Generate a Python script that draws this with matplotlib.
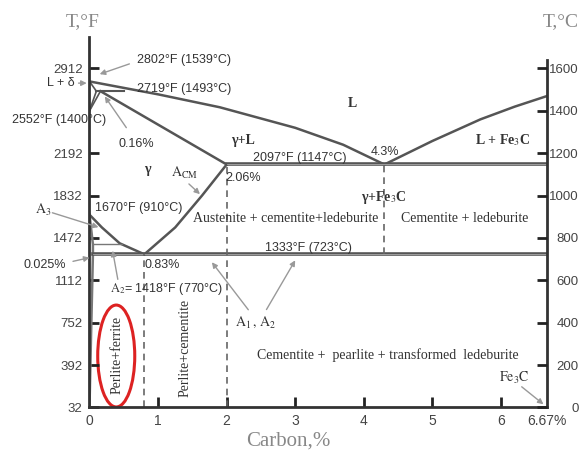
import numpy as np
import matplotlib
matplotlib.use("Agg")
import matplotlib.pyplot as plt
from matplotlib.patches import Ellipse

plt.rcParams['font.family'] = ['Liberation Sans', 'DejaVu Sans']
plt.rcParams['mathtext.fontset'] = 'stix'

# phase boundaries, carbon % vs temperature in deg C
liquidus_x = [0, 1.0, 1.9, 3.0, 3.7, 4.3, 5.0, 5.7, 6.2, 6.67]
liquidus_t = [1539, 1478, 1417, 1320, 1240, 1147, 1258, 1360, 1420, 1470]
solidus_x = [0.16, 2.0]
solidus_t = [1493, 1147]
peritectic_x = [0.1, 0.5]
peritectic_t = [1493, 1493]
delta_x = [[0, 0.1], [0, 0.1], [0, 0.16]]
delta_t = [[1539, 1493], [1400, 1493], [1400, 1493]]
acm_x = [0.8, 1.25, 1.64, 2.0]
acm_t = [723, 850, 1000, 1147]
a3_x = [0, 0.18, 0.44, 0.8]
a3_t = [910, 850, 775, 723]
ferrite_x = [0, 0.05, 0.05, 0.02, 0]
ferrite_t = [910, 770, 723, 300, 0]
a2_x = [0.05, 0.47]
a2_t = [770, 770]
eutectic_x = [2.0, 6.67]
eutectic_t = [1147, 1147]
eutectoid_x = [0.05, 6.67]
eutectoid_t = [723, 723]
dashed_x = [0.8, 2.0, 4.3]
dashed_lo = [0, 0, 723]
dashed_hi = [723, 1147, 1147]

# axis ticks
x_ticks = [0, 1, 2, 3, 4, 5, 6, 6.67]
x_labels = ['0', '1', '2', '3', '4', '5', '6', '6.67%']
c_ticks = [0, 200, 400, 600, 800, 1000, 1200, 1400, 1600]
f_ticks = [0, 200, 400, 600, 800, 1000, 1200, 1600]
f_labels = ['32', '392', '752', '1112', '1472', '1832', '2192', '2912']

fig = plt.figure(figsize=(5.83, 4.55), dpi=100)
ax = fig.add_axes([0.1535, 0.1044, 0.7847, 0.8149])
ax.set_xlim(0, 6.67)
ax.set_ylim(0, 1750)

line_col = '#555555'
ax.plot(liquidus_x, liquidus_t, color=line_col, lw=1.8)
ax.plot(solidus_x, solidus_t, color=line_col, lw=1.8)
ax.plot(peritectic_x, peritectic_t, color=line_col, lw=1.5)
for dx, dt in zip(delta_x, delta_t):
    ax.plot(dx, dt, color=line_col, lw=1.2)
ax.plot(acm_x, acm_t, color=line_col, lw=1.8)
ax.plot(a3_x, a3_t, color=line_col, lw=1.8)
ax.plot(ferrite_x, ferrite_t, color='#777777', lw=1.8)
ax.plot(a2_x, a2_t, color='#777777', lw=1.0)
# the two long horizontals are drawn as double lines
for hx, ht in [(eutectic_x, eutectic_t), (eutectoid_x, eutectoid_t)]:
    ax.plot(hx, ht, color=line_col, lw=2.6)
    ax.plot(hx, ht, color='#bbbbbb', lw=0.5)
for x, lo, hi in zip(dashed_x, dashed_lo, dashed_hi):
    ax.plot([x, x], [lo, hi], color='#666666', lw=1.2, ls=(0, (4, 3)))

# spines and ticks
ax.spines['top'].set_visible(False)
for s in ['left', 'right', 'bottom']:
    ax.spines[s].set_color('#333333')
    ax.spines[s].set_linewidth(2)
ax.spines['right'].set_bounds(0, 1640)

ax.set_xticks(x_ticks)
ax.set_xticklabels(x_labels)
ax.set_yticks(f_ticks)
ax.set_yticklabels(f_labels)
ax.tick_params(axis='x', direction='in', length=7, width=2, color='#222222',
               labelsize=10, labelcolor='#444444', pad=5)
ax.tick_params(axis='y', direction='in', length=7, width=2, color='#222222',
               labelsize=9.5, labelcolor='#444444', pad=5)
ax.xaxis.get_major_ticks()[0].tick1line.set_visible(False)
ax.xaxis.get_major_ticks()[-1].tick1line.set_visible(False)

ax2 = ax.twinx()
ax2.set_ylim(0, 1750)
ax2.set_yticks(c_ticks)
ax2.tick_params(axis='y', direction='in', length=7, width=2, color='#222222',
                labelsize=9.5, labelcolor='#444444', pad=23)
for lab in ax2.get_yticklabels():
    lab.set_horizontalalignment('right')
for s in ['top', 'left', 'bottom', 'right']:
    ax2.spines[s].set_visible(False)

# axis titles
serif = ['Liberation Serif', 'DejaVu Serif']
fig.text(0.141, 0.952, 'T,°F', family=serif, fontsize=14, color='#888888', ha='center', va='center')
fig.text(0.962, 0.952, 'T,°C', family=serif, fontsize=14, color='#888888', ha='center', va='center')
fig.text(0.494, 0.031, 'Carbon,%', family=serif, fontsize=15, color='#888888', ha='center', va='center')

# region labels
tc = '#333333'
def reg(x, y, s, bold=False, size=10, rot=0):
    ax.text(x, y, s, family=serif, fontsize=size, color=tc, ha='center', va='center',
            fontweight='bold' if bold else 'normal', rotation=rot)

reg(3.83, 1437, 'L', bold=True)
reg(6.03, 1262, 'L + Fe$_3$C', bold=True)
reg(2.24, 1262, 'γ+L', bold=True)
reg(4.29, 989, 'γ+Fe$_3$C', bold=True)
reg(0.84, 1121, 'γ', bold=True)
reg(2.86, 894, 'Austenite + cementite+ledeburite')
reg(5.47, 894, 'Cementite + ledeburite')
reg(4.35, 248, 'Cementite +  pearlite + transformed  ledeburite')
reg(0.40, 248, 'Perlite+ferrite', rot=90)
reg(1.39, 281, 'Perlite+cementite', rot=90)

ax.add_patch(Ellipse((0.39, 243), 0.54, 481, fill=False, edgecolor='#dd2222', lw=2.2))

# numeric labels
def num(x, y, s, ha='center', size=9):
    ax.text(x, y, s, fontsize=size, color=tc, ha=ha, va='center')

num(0.69, 1640, '2802°F (1539°C)', ha='left')
num(0.69, 1503, '2719°F (1493°C)', ha='left')
num(-1.13, 1357, '2552°F (1400°C)', ha='left')
num(0.68, 1243, '0.16%')
num(3.07, 1177, '2097°F (1147°C)')
num(4.31, 1205, '4.3%')
num(1.975, 1083, '2.06%', ha='left')
num(0.71, 941, '1670°F (910°C)')
num(3.19, 753, '1333°F (723°C)')
num(-0.65, 673, '0.025%')
num(0.795, 673, '0.83%', ha='left')
num(1.12, 559, r'$\mathrm{A_2}$= 1418°F (770°C)')
ax.text(-0.415, 1531, 'L + δ', fontsize=9, color=tc, ha='center', va='center')
ax.text(1.39, 1107, r'$\mathrm{A_{CM}}$', fontsize=10, color=tc, ha='center', va='center')
ax.text(-0.68, 932, r'$\mathrm{A_3}$', fontsize=10, color=tc, ha='center', va='center')
ax.text(2.43, 404, r'$\mathrm{A_1\,,\,A_2}$', fontsize=10, color=tc, ha='center', va='center')
ax.text(6.19, 139, r'$\mathrm{Fe_3C}$', fontsize=10, color=tc, ha='center', va='center')

# pointer arrows
arrows = [((0.62, 1626), (0.11, 1569)),
          ((0.56, 1310), (0.20, 1479)),
          ((-0.2, 1531), (0.0, 1531)),
          ((1.42, 1064), (1.64, 998)),
          ((-0.58, 923), (0.17, 847)),
          ((-0.28, 687), (0.04, 710)),
          ((0.42, 592), (0.33, 753)),
          ((2.34, 451), (1.76, 696)),
          ((2.56, 451), (3.02, 706)),
          ((6.27, 106), (6.65, 7))]
for start, end in arrows:
    ax.annotate('', xy=end, xytext=start,
                arrowprops=dict(arrowstyle='-|>', color='#999999', lw=1, mutation_scale=8))

fig.savefig('out.png', dpi=100)
